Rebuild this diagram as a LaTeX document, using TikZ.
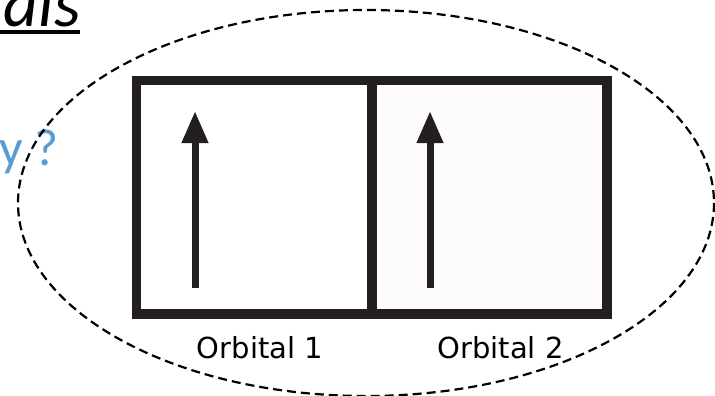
\documentclass[tikz,border=0pt]{standalone}
\usepackage{fontspec}
\setmainfont{DejaVu Sans}
\newfontfamily\calfont{Carlito}
\usetikzlibrary{arrows.meta}
\definecolor{ink}{HTML}{231F20}
\definecolor{qblue}{HTML}{5B9BD5}
\definecolor{offwhite}{HTML}{FDFCFA}
\tikzset{
  orbbox/.style={draw=ink, line width=9.5pt, inner sep=0pt, outer sep=0pt, minimum height=233.5pt},
  spin/.style={draw=ink, line width=7pt, -{Triangle[length=32pt,width=25pt]}},
  orblabel/.style={font=\fontsize{29}{32}\selectfont, text=black, inner sep=0pt},
  group/.style={draw=black, line width=2.2pt, dash pattern=on 9pt off 5pt}
}
\begin{document}
\begin{tikzpicture}[x=1pt,y=-1pt]
\useasboundingbox (0,0) rectangle (715,396);
% title fragment
\node[anchor=base east, inner sep=0pt, font=\calfont\itshape\fontsize{68}{76}\selectfont, text=black] (title) at (81,27) {als};
\draw[line width=4pt, black] (-5,32) -- (80,32);
% question fragment
\node[anchor=base west, inner sep=0pt, font=\calfont\fontsize{52}{58}\selectfont, text=qblue] (q) at (-1,165) {y ?};
% group ellipse
\draw[group] (366,203) ellipse [x radius=348, y radius=193];
% orbital boxes
\node[orbbox, fill=white, minimum width=235.5pt] (box1) at (254.25,197.25) {};
\node[orbbox, fill=offwhite, minimum width=235pt] (box2) at (489.5,197.25) {};
\draw[ink, line width=9.5pt] (box1.north east) -- (box1.south east);
% spins
\coordinate (s1a) at (195,288);
\coordinate (s1b) at (195,111);
\coordinate (s2a) at (430,288);
\coordinate (s2b) at (430,111);
\draw[spin] (s1a) -- (s1b);
\draw[spin] (s2a) -- (s2b);
% labels
\node[orblabel] (l1) at (260,348) {Orbital 1};
\node[orblabel] (l2) at (500.5,348) {Orbital 2};
\end{tikzpicture}
\end{document}
